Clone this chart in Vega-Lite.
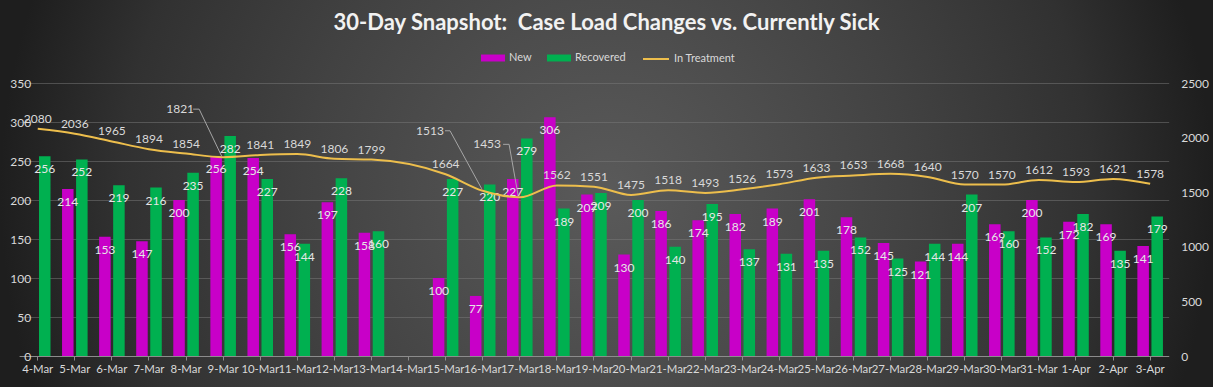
{
  "$schema": "https://vega.github.io/schema/vega-lite/v6.json",
  "width": 1213,
  "height": 387,
  "autosize": {"type": "none"},
  "padding": 0,
  "background": "#1e1e1e",
  "title": {
    "text": "30-Day Snapshot:\u00a0 Case Load Changes vs. Currently Sick",
    "anchor": "middle",
    "frame": "group",
    "offset": -35,
    "fontSize": 22,
    "font": "Lato",
    "fontWeight": "bold",
    "color": "#f2f2f2"
  },
  "datasets": {
    "bars": [
      {"date": "4-Mar", "series": "Recovered", "value": 256},
      {"date": "5-Mar", "series": "New", "value": 214},
      {"date": "5-Mar", "series": "Recovered", "value": 252},
      {"date": "6-Mar", "series": "New", "value": 153},
      {"date": "6-Mar", "series": "Recovered", "value": 219},
      {"date": "7-Mar", "series": "New", "value": 147},
      {"date": "7-Mar", "series": "Recovered", "value": 216},
      {"date": "8-Mar", "series": "New", "value": 200},
      {"date": "8-Mar", "series": "Recovered", "value": 235},
      {"date": "9-Mar", "series": "New", "value": 256},
      {"date": "9-Mar", "series": "Recovered", "value": 282},
      {"date": "10-Mar", "series": "New", "value": 254},
      {"date": "10-Mar", "series": "Recovered", "value": 227},
      {"date": "11-Mar", "series": "New", "value": 156},
      {"date": "11-Mar", "series": "Recovered", "value": 144},
      {"date": "12-Mar", "series": "New", "value": 197},
      {"date": "12-Mar", "series": "Recovered", "value": 228},
      {"date": "13-Mar", "series": "New", "value": 158},
      {"date": "13-Mar", "series": "Recovered", "value": 160},
      {"date": "15-Mar", "series": "New", "value": 100},
      {"date": "15-Mar", "series": "Recovered", "value": 227},
      {"date": "16-Mar", "series": "New", "value": 77},
      {"date": "16-Mar", "series": "Recovered", "value": 220},
      {"date": "17-Mar", "series": "New", "value": 227},
      {"date": "17-Mar", "series": "Recovered", "value": 279},
      {"date": "18-Mar", "series": "New", "value": 306},
      {"date": "18-Mar", "series": "Recovered", "value": 189},
      {"date": "19-Mar", "series": "New", "value": 207},
      {"date": "19-Mar", "series": "Recovered", "value": 209},
      {"date": "20-Mar", "series": "New", "value": 130},
      {"date": "20-Mar", "series": "Recovered", "value": 200},
      {"date": "21-Mar", "series": "New", "value": 186},
      {"date": "21-Mar", "series": "Recovered", "value": 140},
      {"date": "22-Mar", "series": "New", "value": 174},
      {"date": "22-Mar", "series": "Recovered", "value": 195},
      {"date": "23-Mar", "series": "New", "value": 182},
      {"date": "23-Mar", "series": "Recovered", "value": 137},
      {"date": "24-Mar", "series": "New", "value": 189},
      {"date": "24-Mar", "series": "Recovered", "value": 131},
      {"date": "25-Mar", "series": "New", "value": 201},
      {"date": "25-Mar", "series": "Recovered", "value": 135},
      {"date": "26-Mar", "series": "New", "value": 178},
      {"date": "26-Mar", "series": "Recovered", "value": 152},
      {"date": "27-Mar", "series": "New", "value": 145},
      {"date": "27-Mar", "series": "Recovered", "value": 125},
      {"date": "28-Mar", "series": "New", "value": 121},
      {"date": "28-Mar", "series": "Recovered", "value": 144},
      {"date": "29-Mar", "series": "New", "value": 144},
      {"date": "29-Mar", "series": "Recovered", "value": 207},
      {"date": "30-Mar", "series": "New", "value": 169},
      {"date": "30-Mar", "series": "Recovered", "value": 160},
      {"date": "31-Mar", "series": "New", "value": 200},
      {"date": "31-Mar", "series": "Recovered", "value": 152},
      {"date": "1-Apr", "series": "New", "value": 172},
      {"date": "1-Apr", "series": "Recovered", "value": 182},
      {"date": "2-Apr", "series": "New", "value": 169},
      {"date": "2-Apr", "series": "Recovered", "value": 135},
      {"date": "3-Apr", "series": "New", "value": 141},
      {"date": "3-Apr", "series": "Recovered", "value": 179}
    ],
    "treat": [
      {"date": "4-Mar", "treat": 2080},
      {"date": "5-Mar", "treat": 2036},
      {"date": "6-Mar", "treat": 1965},
      {"date": "7-Mar", "treat": 1894},
      {"date": "8-Mar", "treat": 1854},
      {"date": "9-Mar", "treat": 1821},
      {"date": "10-Mar", "treat": 1841},
      {"date": "11-Mar", "treat": 1849},
      {"date": "12-Mar", "treat": 1806},
      {"date": "13-Mar", "treat": 1799},
      {"date": "15-Mar", "treat": 1664},
      {"date": "16-Mar", "treat": 1513},
      {"date": "17-Mar", "treat": 1453},
      {"date": "18-Mar", "treat": 1562},
      {"date": "19-Mar", "treat": 1551},
      {"date": "20-Mar", "treat": 1475},
      {"date": "21-Mar", "treat": 1518},
      {"date": "22-Mar", "treat": 1493},
      {"date": "23-Mar", "treat": 1526},
      {"date": "24-Mar", "treat": 1573},
      {"date": "25-Mar", "treat": 1633},
      {"date": "26-Mar", "treat": 1653},
      {"date": "27-Mar", "treat": 1668},
      {"date": "28-Mar", "treat": 1640},
      {"date": "29-Mar", "treat": 1570},
      {"date": "30-Mar", "treat": 1570},
      {"date": "31-Mar", "treat": 1612},
      {"date": "1-Apr", "treat": 1593},
      {"date": "2-Apr", "treat": 1621},
      {"date": "3-Apr", "treat": 1578}
    ]
  },
  "encoding": {
    "x": {
      "field": "date",
      "type": "nominal",
      "scale": {
        "domain": ["4-Mar","5-Mar","6-Mar","7-Mar","8-Mar","9-Mar","10-Mar","11-Mar","12-Mar","13-Mar","14-Mar","15-Mar","16-Mar","17-Mar","18-Mar","19-Mar","20-Mar","21-Mar","22-Mar","23-Mar","24-Mar","25-Mar","26-Mar","27-Mar","28-Mar","29-Mar","30-Mar","31-Mar","1-Apr","2-Apr","3-Apr"],
        "range": [19.2, 1168.7],
        "paddingInner": 0,
        "paddingOuter": 0
      },
      "axis": {
        "title": null,
        "orient": "bottom",
        "offset": -31,
        "labelAngle": 0,
        "labelColor": "#d9d9d9",
        "labelFontSize": 11.4,
        "labelFont": "Lato",
        "labelOverlap": false,
        "labelPadding": 3,
        "tickColor": "#8c8c8c",
        "tickSize": 4,
        "domainColor": "#8c8c8c",
        "grid": false
      }
    }
  },
  "layer": [
    {
      "data": {"name": "bars"},
      "encoding": {
        "y": {
          "field": "value",
          "type": "quantitative",
          "stack": null,
          "scale": {"domain": [0, 350], "range": [356, 83], "nice": false, "zero": true},
          "axis": {
            "title": null,
            "orient": "left",
            "offset": -37.7,
            "values": [0, 50, 100, 150, 200, 250, 300, 350],
            "format": "d",
            "labelColor": "#d9d9d9",
            "labelFontSize": 12,
            "labelFont": "Lato",
            "labelPadding": 7,
            "ticks": false,
            "domain": false,
            "grid": true,
            "gridColor": "#7a7a7a",
            "gridOpacity": 0.5
          }
        },
        "xOffset": {
          "field": "series",
          "type": "nominal",
          "scale": {"domain": ["New", "Recovered"], "paddingInner": 0.18, "paddingOuter": 0.41}
        }
      },
      "layer": [
        {
          "mark": {"type": "bar"},
          "encoding": {
            "color": {
              "field": "series",
              "type": "nominal",
              "scale": {"domain": ["New", "Recovered"], "range": ["#C800C8", "#00B050"]},
              "legend": {
                "title": null,
                "orient": "none",
                "legendX": 481,
                "legendY": 46,
                "direction": "horizontal",
                "gridAlign": "none",
                "symbolType": "M-1,-0.29H1V0.29H-1Z",
                "symbolSize": 576,
                "symbolStrokeWidth": 0,
                "labelColor": "#d9d9d9",
                "labelFontSize": 11,
                "labelFont": "Lato",
                "labelOffset": 4,
                "columnPadding": 15
              }
            }
          }
        },
        {
          "mark": {"type": "text", "baseline": "middle", "dy": 13, "fontSize": 12, "font": "Lato", "color": "#e6e6e6"},
          "encoding": {"text": {"field": "value", "type": "quantitative"}}
        }
      ]
    },
    {
      "data": {"name": "treat"},
      "encoding": {
        "y": {
          "field": "treat",
          "type": "quantitative",
          "scale": {"domain": [0, 2500], "range": [356, 83], "nice": false, "zero": true},
          "axis": {
            "title": null,
            "orient": "right",
            "offset": -44.3,
            "values": [0, 500, 1000, 1500, 2000, 2500],
            "format": "d",
            "labelColor": "#d9d9d9",
            "labelFontSize": 12,
            "labelFont": "Lato",
            "labelPadding": 12,
            "ticks": false,
            "domain": false,
            "grid": false
          }
        }
      },
      "layer": [
        {
          "mark": {"type": "line", "strokeWidth": 2, "interpolate": "monotone"},
          "encoding": {
            "stroke": {
              "datum": "In Treatment",
              "type": "nominal",
              "scale": {"domain": ["In Treatment"], "range": ["#EDBE4C"]},
              "legend": {
                "title": null,
                "orient": "none",
                "legendX": 642,
                "legendY": 45,
                "symbolType": "stroke",
                "symbolSize": 676,
                "symbolStrokeWidth": 2,
                "labelColor": "#d9d9d9",
                "labelFontSize": 11,
                "labelFont": "Lato",
                "labelOffset": 4
              }
            }
          }
        },
        {
          "transform": [{"filter": "datum.date != '9-Mar' && datum.date != '16-Mar' && datum.date != '17-Mar'"}],
          "mark": {"type": "text", "baseline": "middle", "dy": -10, "fontSize": 12, "font": "Lato", "color": "#d9d9d9"},
          "encoding": {"text": {"field": "treat", "type": "quantitative", "format": "d"}}
        },
        {
          "transform": [{"filter": "datum.date == '9-Mar'"}],
          "mark": {"type": "text", "baseline": "middle", "dx": -43, "dy": -48, "fontSize": 12, "font": "Lato", "color": "#d9d9d9"},
          "encoding": {"text": {"field": "treat", "type": "quantitative", "format": "d"}}
        },
        {
          "transform": [{"filter": "datum.date == '16-Mar'"}],
          "mark": {"type": "text", "baseline": "middle", "dx": -52.7, "dy": -60, "fontSize": 12, "font": "Lato", "color": "#d9d9d9"},
          "encoding": {"text": {"field": "treat", "type": "quantitative", "format": "d"}}
        },
        {
          "transform": [{"filter": "datum.date == '17-Mar'"}],
          "mark": {"type": "text", "baseline": "middle", "dx": -32.7, "dy": -53, "fontSize": 12, "font": "Lato", "color": "#d9d9d9"},
          "encoding": {"text": {"field": "treat", "type": "quantitative", "format": "d"}}
        },
        {
          "transform": [{"filter": "datum.date == '9-Mar'"}],
          "mark": {"type": "rule", "color": "#a6a6a6", "strokeWidth": 1, "xOffset": -30, "yOffset": -48, "x2Offset": -24, "y2Offset": -48},
          "encoding": {"x2": {"field": "date"}, "y2": {"field": "treat"}}
        },
        {
          "transform": [{"filter": "datum.date == '9-Mar'"}],
          "mark": {"type": "rule", "color": "#a6a6a6", "strokeWidth": 1, "xOffset": -24, "yOffset": -48, "x2Offset": -1.5, "y2Offset": -1},
          "encoding": {"x2": {"field": "date"}, "y2": {"field": "treat"}}
        },
        {
          "transform": [{"filter": "datum.date == '16-Mar'"}],
          "mark": {"type": "rule", "color": "#a6a6a6", "strokeWidth": 1, "xOffset": -37.7, "yOffset": -60, "x2Offset": -32.7, "y2Offset": -60},
          "encoding": {"x2": {"field": "date"}, "y2": {"field": "treat"}}
        },
        {
          "transform": [{"filter": "datum.date == '16-Mar'"}],
          "mark": {"type": "rule", "color": "#a6a6a6", "strokeWidth": 1, "xOffset": -32.7, "yOffset": -60, "x2Offset": -1, "y2Offset": -2},
          "encoding": {"x2": {"field": "date"}, "y2": {"field": "treat"}}
        },
        {
          "transform": [{"filter": "datum.date == '17-Mar'"}],
          "mark": {"type": "rule", "color": "#a6a6a6", "strokeWidth": 1, "xOffset": -16.7, "yOffset": -53, "x2Offset": -10.7, "y2Offset": -53},
          "encoding": {"x2": {"field": "date"}, "y2": {"field": "treat"}}
        },
        {
          "transform": [{"filter": "datum.date == '17-Mar'"}],
          "mark": {"type": "rule", "color": "#a6a6a6", "strokeWidth": 1, "xOffset": -10.7, "yOffset": -53, "x2Offset": -1.7, "y2Offset": -2},
          "encoding": {"x2": {"field": "date"}, "y2": {"field": "treat"}}
        }
      ]
    }
  ],
  "resolve": {"scale": {"y": "independent"}},
  "config": {
    "font": "Lato",
    "view": {
      "stroke": null,
      "fill": {
        "gradient": "radial",
        "x1": 0.5, "y1": 0.5, "r1": 0,
        "x2": 0.5, "y2": 0.5, "r2": 0.5,
        "stops": [
          {"offset": 0, "color": "#5a5a5a"},
          {"offset": 0.3, "color": "#4c4c4c"},
          {"offset": 0.5, "color": "#424242"},
          {"offset": 0.8, "color": "#313131"},
          {"offset": 1, "color": "#1e1e1e"}
        ]
      }
    }
  }
}
